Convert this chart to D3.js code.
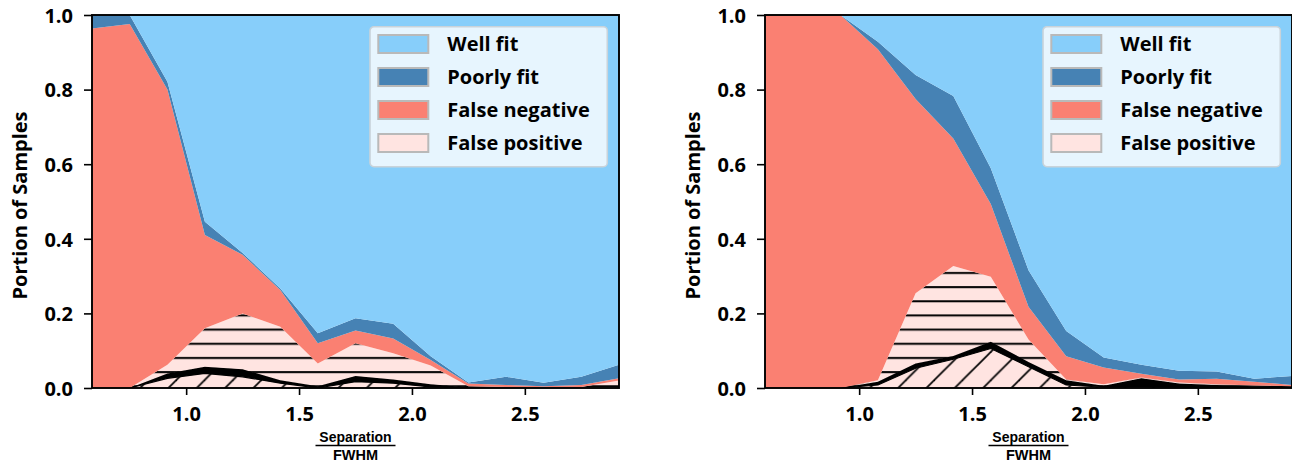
<!DOCTYPE html>
<html><head><meta charset="utf-8">
<script src="https://cdn.jsdelivr.net/npm/d3@7"></script>
<style>
html,body{margin:0;padding:0;background:#fff;}
svg{display:block;font-family:"Open Sans",Lato,sans-serif;font-weight:700;}
</style></head><body>
<svg id="chart" width="1292" height="463"></svg>
<script>
// Peak separation in units of FWHM
const separation = [0.583, 0.750, 0.917, 1.083, 1.250, 1.417, 1.583, 1.750, 1.917, 2.083, 2.250, 2.417, 2.583, 2.750, 2.917];
const legendLabels = ["Well fit", "Poorly fit", "False negative", "False positive"];
const xTickValues = [1.0, 1.5, 2.0, 2.5];
const yTickValues = [0.0, 0.2, 0.4, 0.6, 0.8, 1.0];

// Left panel: fraction of samples per outcome (stacked bottom to top)
const leftFalsePosDiag  = [0, 0, 0.026, 0.039, 0.030, 0.013, 0.000, 0.017, 0.013, 0.003, 0, 0, 0, 0, 0];
const leftFalsePosEdge  = [0, 0, 0.013, 0.018, 0.020, 0.008, 0.005, 0.015, 0.010, 0.007, 0.002, 0, 0, 0, 0];
const leftFalsePosBar   = [0, 0, 0.023, 0.103, 0.150, 0.143, 0.061, 0.088, 0.070, 0.050, 0.003, 0.003, 0.003, 0.003, 0.020];
const leftFalseNeg      = [0.964, 0.976, 0.738, 0.250, 0.157, 0.099, 0.054, 0.034, 0.040, 0.015, 0.007, 0.005, 0.002, 0.005, 0.006];
const leftPoorlyFit     = [0.036, 0.024, 0.021, 0.036, 0.005, 0.004, 0.027, 0.033, 0.039, 0.010, 0.003, 0.022, 0.009, 0.022, 0.036];
const leftWellFit       = [0, 0, 0.179, 0.554, 0.638, 0.733, 0.853, 0.813, 0.828, 0.915, 0.985, 0.970, 0.986, 0.970, 0.938];

// Right panel
const rightFalsePosDiag = [0, 0, 0, 0.008, 0.053, 0.077, 0.106, 0.057, 0.008, 0.002, 0.003, 0.002, 0, 0, 0];
const rightFalsePosEdge = [0, 0, 0, 0.009, 0.013, 0.009, 0.018, 0.013, 0.013, 0.004, 0.023, 0.010, 0.008, 0.005, 0.003];
const rightFalsePosBar  = [0, 0, 0, 0.004, 0.188, 0.241, 0.174, 0.060, 0.002, 0.004, 0.002, 0.003, 0.002, 0.002, 0.002];
const rightFalseNeg     = [1, 1, 1, 0.887, 0.521, 0.342, 0.195, 0.088, 0.062, 0.045, 0.010, 0.008, 0.015, 0.010, 0.003];
const rightPoorlyFit    = [0, 0, 0, 0.020, 0.064, 0.114, 0.096, 0.098, 0.068, 0.027, 0.024, 0.023, 0.019, 0.008, 0.024];
const rightWellFit      = [0, 0, 0, 0.072, 0.161, 0.217, 0.411, 0.684, 0.849, 0.918, 0.938, 0.954, 0.956, 0.975, 0.968];

const colors = {
  wellFit: "#87CEFA",
  poorlyFit: "#4682B4",
  falseNeg: "#FA8072",
  falsePos: "#FFE4E1"
};

const svg = d3.select("#chart");
const W = 527, H = 373;

// Hatch patterns (user space of each panel group)
const defs = svg.append("defs");
const S = 28.33;
const diag = defs.append("pattern").attr("id", "hatchDiag")
  .attr("patternUnits", "userSpaceOnUse").attr("width", S).attr("height", S);
diag.append("rect").attr("width", S).attr("height", S).attr("fill", colors.falsePos);
const c = 24.5;
diag.append("line").attr("x1", -3).attr("y1", c + 3).attr("x2", c + 3).attr("y2", -3)
  .attr("stroke", "#000").attr("stroke-width", 1.7);
diag.append("line").attr("x1", c - 3).attr("y1", S + 3).attr("x2", S + 3).attr("y2", c - 3)
  .attr("stroke", "#000").attr("stroke-width", 1.7);

const hs = S / 2;
const bar = defs.append("pattern").attr("id", "hatchBar")
  .attr("patternUnits", "userSpaceOnUse").attr("width", 20).attr("height", hs);
bar.append("rect").attr("width", 20).attr("height", hs).attr("fill", colors.falsePos);
bar.append("rect").attr("x", 0).attr("width", 20).attr("y", 2).attr("height", 2)
  .attr("fill", "#000");

const keys = ["fpDiag", "fpEdge", "fpBar", "falseNeg", "poorlyFit", "wellFit"];
const layerFill = {
  fpDiag: "url(#hatchDiag)",
  fpEdge: "#000",
  fpBar: "url(#hatchBar)",
  falseNeg: colors.falseNeg,
  poorlyFit: colors.poorlyFit,
  wellFit: colors.wellFit
};

function drawPanel(left, top, series, id) {
  const rows = separation.map((s, i) => ({
    sep: s,
    fpDiag: series.fpDiag[i],
    fpEdge: series.fpEdge[i],
    fpBar: series.fpBar[i],
    falseNeg: series.falseNeg[i],
    poorlyFit: series.poorlyFit[i],
    wellFit: series.wellFit[i]
  }));
  const stacked = d3.stack().keys(keys)(rows);

  const x = d3.scaleLinear().domain(d3.extent(separation)).range([0, W]);
  const y = d3.scaleLinear().domain([0, 1]).range([H, 0]);

  const g = svg.append("g").attr("transform", `translate(${left},${top})`);
  g.append("clipPath").attr("id", "clip" + id)
    .append("rect").attr("width", W).attr("height", H);

  const area = d3.area()
    .x(d => x(d.data.sep))
    .y0(d => y(d[0]))
    .y1(d => y(d[1]));

  const plot = g.append("g").attr("clip-path", `url(#clip${id})`);
  plot.selectAll("path.layer").data(stacked).join("path")
    .attr("class", "layer")
    .attr("d", area)
    .attr("fill", d => layerFill[d.key])
    .attr("stroke", d => d.key === "fpEdge" ? "#000" : "none")
    .attr("stroke-width", d => d.key === "fpEdge" ? 1.2 : 0)
    .attr("stroke-linejoin", "round");

  // Axes
  const xAxis = d3.axisBottom(x).tickValues(xTickValues).tickFormat(d3.format(".1f"))
    .tickSize(7).tickSizeOuter(0).tickPadding(12);
  const yAxis = d3.axisLeft(y).tickValues(yTickValues).tickFormat(d3.format(".1f"))
    .tickSize(8).tickSizeOuter(0).tickPadding(11);

  const gx = g.append("g").attr("transform", `translate(0,${H})`).call(xAxis);
  const gy = g.append("g").call(yAxis);
  [gx, gy].forEach(a => {
    a.select(".domain").remove();
    a.selectAll(".tick line").attr("stroke", "#000").attr("stroke-width", 1.6);
    a.selectAll(".tick text").attr("fill", "#000")
      .style("font-family", "'Open Sans', sans-serif").style("font-weight", 700).style("font-size", "20px");
  });
  gy.selectAll(".tick text").attr("dy", "0.36em");
  gx.selectAll(".tick text").attr("dy", "0.68em");

  // Frame
  g.append("rect").attr("width", W).attr("height", H)
    .attr("fill", "none").attr("stroke", "#000").attr("stroke-width", 1.9);

  // Y label
  g.append("text")
    .attr("transform", `translate(${-65},${H / 2 + 4}) rotate(-90)`)
    .attr("text-anchor", "middle")
    .style("font-size", "20px")
    .text("Portion of Samples");

  // X label as a fraction
  const cx = W / 2;
  const frac = g.append("g").style("font-family", "'Liberation Sans', Arial, sans-serif");
  frac.append("text").attr("x", cx).attr("y", H + 54).attr("text-anchor", "middle")
    .style("font-size", "14px").text("Separation");
  frac.append("line").attr("x1", cx - 40).attr("x2", cx + 40)
    .attr("y1", H + 57.5).attr("y2", H + 57.5).attr("stroke", "#000").attr("stroke-width", 1.3);
  frac.append("text").attr("x", cx).attr("y", H + 71.5).attr("text-anchor", "middle")
    .style("font-size", "14.5px").text("FWHM");

  // Legend
  const lg = g.append("g").attr("transform", "translate(278,11.7)");
  lg.append("rect").attr("width", 237.3).attr("height", 140).attr("rx", 4)
    .attr("fill", "rgba(255,255,255,0.8)").attr("stroke", "#c9d3da").attr("stroke-width", 1.6);
  const legendFills = [colors.wellFit, colors.poorlyFit, colors.falseNeg, colors.falsePos];
  legendLabels.forEach((lab, i) => {
    const cy = 17.3 + i * 33;
    lg.append("rect").attr("x", 8.3).attr("y", cy - 9).attr("width", 50).attr("height", 18)
      .attr("fill", legendFills[i]).attr("stroke", "#b9b9b9").attr("stroke-width", 2);
    lg.append("text").attr("x", 77.3).attr("y", cy + 7.4)
      .style("font-size", "20px").attr("fill", "#000").text(lab);
  });
}

drawPanel(92, 15, {
  fpDiag: leftFalsePosDiag, fpEdge: leftFalsePosEdge, fpBar: leftFalsePosBar,
  falseNeg: leftFalseNeg, poorlyFit: leftPoorlyFit, wellFit: leftWellFit
}, "L");
drawPanel(765, 15, {
  fpDiag: rightFalsePosDiag, fpEdge: rightFalsePosEdge, fpBar: rightFalsePosBar,
  falseNeg: rightFalseNeg, poorlyFit: rightPoorlyFit, wellFit: rightWellFit
}, "R");
</script>
</body></html>
